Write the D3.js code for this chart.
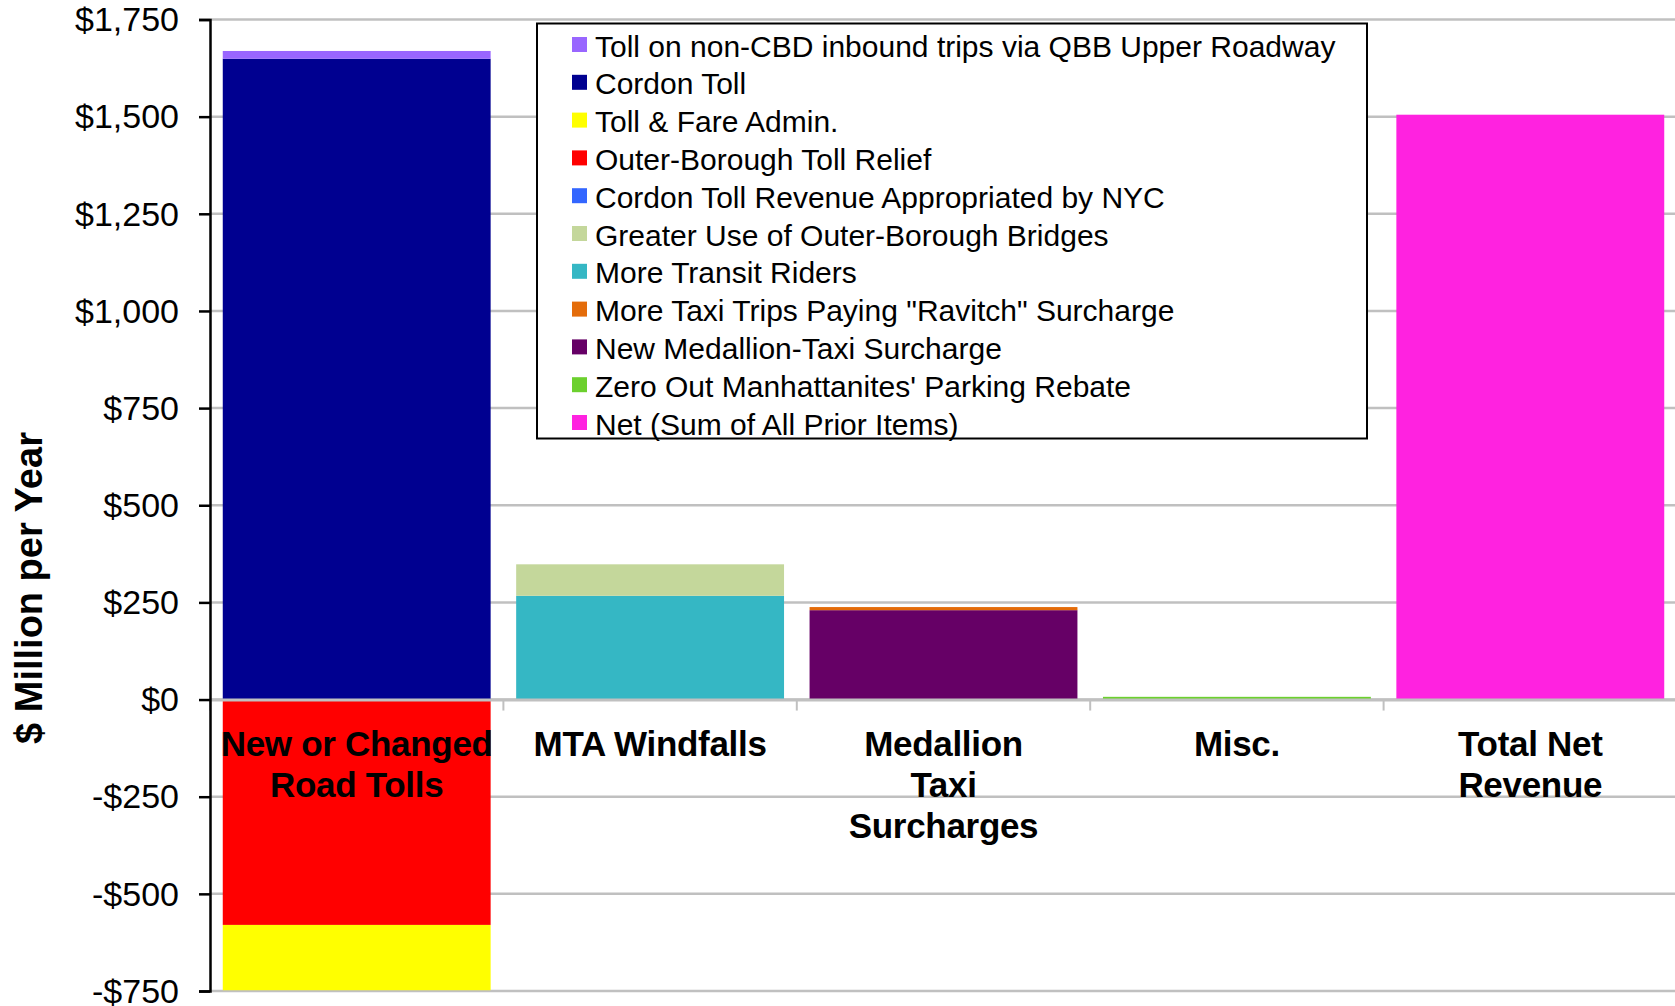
<!DOCTYPE html>
<html>
<head>
<meta charset="utf-8">
<script src="https://cdn.jsdelivr.net/npm/d3@7"></script>
<style>
  html, body { margin: 0; padding: 0; background: #fff; }
  svg { display: block; font-family: "Liberation Sans", Arial, sans-serif; }
</style>
</head>
<body>
<svg id="chart" width="1675" height="1006"></svg>
<script>
// ---- Data ----
const categories = ["New or Changed Road Tolls", "MTA Windfalls", "Medallion Taxi Surcharges", "Misc.", "Total Net Revenue"];
const categoryLines = [["New or Changed", "Road Tolls"], ["MTA Windfalls"], ["Medallion", "Taxi", "Surcharges"], ["Misc."], ["Total Net", "Revenue"]];

// series in stacking order (bottom first); legend lists them in reverse
const seriesNames = [
  "Net (Sum of All Prior Items)",
  "Zero Out Manhattanites' Parking Rebate",
  "New Medallion-Taxi Surcharge",
  "More Taxi Trips Paying \"Ravitch\" Surcharge",
  "More Transit Riders",
  "Greater Use of Outer-Borough Bridges",
  "Cordon Toll Revenue Appropriated by NYC",
  "Outer-Borough Toll Relief",
  "Toll & Fare Admin.",
  "Cordon Toll",
  "Toll on non-CBD inbound trips via QBB Upper Roadway"
];
const netValues          = [0, 0, 0, 0, 1505];
const parkingRebate      = [0, 0, 0, 7, 0];
const medallionSurcharge = [0, 0, 230, 0, 0];
const ravitchSurcharge   = [0, 0, 8, 0, 0];
const transitRiders      = [0, 267, 0, 0, 0];
const outerBridges       = [0, 81, 0, 0, 0];
const appropriatedByNYC  = [0, 0, 0, 0, 0];
const tollRelief         = [-580, 0, 0, 0, 0];
const tollFareAdmin      = [-168, 0, 0, 0, 0];
const cordonToll         = [1649, 0, 0, 0, 0];
const qbbToll            = [20, 0, 0, 0, 0];
const seriesValues = [netValues, parkingRebate, medallionSurcharge, ravitchSurcharge, transitRiders,
  outerBridges, appropriatedByNYC, tollRelief, tollFareAdmin, cordonToll, qbbToll];
const seriesColors = ["#FF22E0", "#6CD02E", "#660066", "#E46C0A", "#35B7C4",
  "#C4D79B", "#3366FF", "#FF0000", "#FFFF00", "#000090", "#9966FF"];
const yTicks = [-750, -500, -250, 0, 250, 500, 750, 1000, 1250, 1500, 1750];

// ---- Layout ----
const svg = d3.select("#chart");
const x0 = 210, x1 = 1677, yTop = 19.5, yBot = 991;
const x = d3.scaleBand().domain(categories).range([x0, x1]).paddingInner(0.087).paddingOuter(0.0435);
const y = d3.scaleLinear().domain([-750, 1750]).range([yBot, yTop]);

// gridlines
svg.append("g").selectAll("line").data(yTicks).join("line")
  .attr("x1", x0).attr("x2", 1675)
  .attr("y1", d => y(d)).attr("y2", d => y(d))
  .attr("stroke", "#c0c0c0").attr("stroke-width", 2.5);

// stacked bars
const table = categories.map((c, i) => {
  const row = { cat: c };
  seriesNames.forEach((s, j) => row[s] = seriesValues[j][i]);
  return row;
});
const stacked = d3.stack().keys(seriesNames).offset(d3.stackOffsetDiverging)(table);
svg.append("g").selectAll("g").data(stacked).join("g")
  .attr("fill", (d, i) => seriesColors[i])
  .selectAll("rect").data(d => d).join("rect")
  .attr("x", d => x(d.data.cat))
  .attr("width", x.bandwidth())
  .attr("y", d => y(Math.max(d[0], d[1])))
  .attr("height", d => Math.abs(y(d[0]) - y(d[1])));

// category axis at zero (gray)
const xAxis = svg.append("g").attr("transform", `translate(0,${y(0)})`)
  .call(d3.axisBottom(x).tickSize(0).tickFormat(""));
xAxis.select(".domain").attr("stroke", "#c0c0c0").attr("stroke-width", 3);
const bounds = [x0].concat(categories.map(c => x(c) + x.bandwidth() + x.step() * x.paddingInner() / 2));
svg.append("g").selectAll("line").data(bounds).join("line")
  .attr("x1", d => d).attr("x2", d => d)
  .attr("y1", y(0)).attr("y2", y(0) + 11)
  .attr("stroke", "#c0c0c0").attr("stroke-width", 2);

// category labels
const lab = svg.append("g").attr("font-weight", "bold").attr("font-size", 35).attr("text-anchor", "middle").attr("fill", "#000");
categories.forEach((c, i) => {
  categoryLines[i].forEach((t, k) => {
    lab.append("text").attr("x", x(c) + x.bandwidth() / 2).attr("y", 744 + k * 40.8)
      .attr("dy", "0.35em").attr("letter-spacing", -0.3).text(t);
  });
});

// y axis
const yAxis = svg.append("g").attr("transform", `translate(${x0},0)`)
  .call(d3.axisLeft(y).tickValues(yTicks).tickSize(11).tickPadding(20)
    .tickFormat(d => (d < 0 ? "-$" : "$") + d3.format(",")(Math.abs(d))));
yAxis.select(".domain").attr("stroke", "#000").attr("stroke-width", 2.5);
yAxis.selectAll(".tick line").attr("stroke", "#000").attr("stroke-width", 2.5);
yAxis.selectAll(".tick text").attr("font-size", 34).attr("fill", "#000").attr("dy", "0.33em")
  .attr("font-family", "Liberation Sans, Arial, sans-serif");

// y title
svg.append("text").attr("transform", "translate(29,588) rotate(-90)")
  .attr("text-anchor", "middle").attr("dy", "0.35em")
  .attr("font-weight", "bold").attr("font-size", 38).text("$ Million per Year");

// legend
const lg = svg.append("g");
lg.append("rect").attr("x", 537).attr("y", 23.5).attr("width", 830).attr("height", 415)
  .attr("fill", "#fff").attr("stroke", "#000").attr("stroke-width", 2);
const legendOrder = seriesNames.map((s, i) => i).reverse();
legendOrder.forEach((si, k) => {
  const cy = 46 + k * 37.8;
  lg.append("rect").attr("x", 572).attr("y", cy - 9).attr("width", 15).attr("height", 15).attr("fill", seriesColors[si]);
  lg.append("text").attr("x", 595).attr("y", cy).attr("dy", "0.35em").attr("font-size", 30).text(seriesNames[si]);
});
</script>
</body>
</html>
